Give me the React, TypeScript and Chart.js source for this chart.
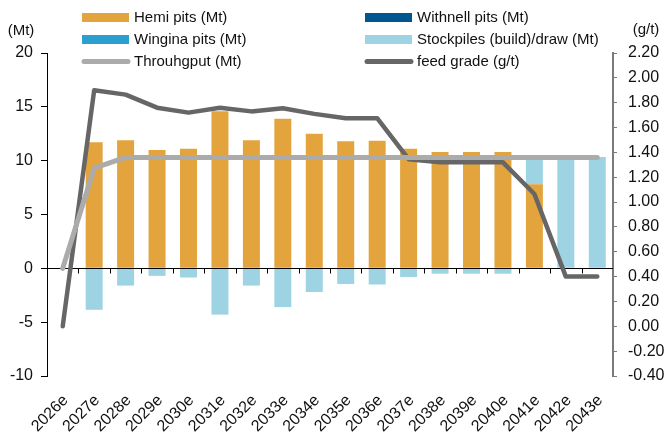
import React, { useEffect, useRef } from "react";
import { Chart, registerables } from "chart.js";

Chart.register(...registerables);

const categories = [
  "2026e", "2027e", "2028e", "2029e", "2030e", "2031e", "2032e", "2033e", "2034e",
  "2035e", "2036e", "2037e", "2038e", "2039e", "2040e", "2041e", "2042e", "2043e",
];
const hemiPits = [0, 11.7, 11.9, 11.0, 11.1, 14.6, 11.9, 13.9, 12.5, 11.8, 11.85, 11.1, 10.8, 10.8, 10.8, 7.8, 0, 0];
const withnellPits = [0, 0, 0, 0, 0, 0, 0, 0, 0, 0, 0, 0, 0, 0, 0, 0, 0, 0];
const winginaPits = [0, 0, 0, 0, 0, 0, 0, 0, 0, 0, 0, 0, 0, 0, 0, 0, 0, 0];
const stockpiles = [0, -3.85, -1.6, -0.7, -0.85, -4.3, -1.6, -3.6, -2.2, -1.45, -1.5, -0.8, -0.5, -0.5, -0.5, 2.45, 10.2, 10.35];
const throughput = [0, 9.3, 10.3, 10.3, 10.3, 10.3, 10.3, 10.3, 10.3, 10.3, 10.3, 10.3, 10.3, 10.3, 10.3, 10.3, 10.3, 10.3];
const feedGrade = [0.0, 1.9, 1.865, 1.76, 1.72, 1.76, 1.73, 1.755, 1.71, 1.675, 1.675, 1.345, 1.32, 1.32, 1.32, 1.065, 0.4, 0.4];

const leftAxis = { min: -10, max: 20, step: 5, title: "(Mt)" };
const rightAxis = { min: -0.4, max: 2.2, step: 0.2, title: "(g/t)" };

const FONT = "'Liberation Sans', Arial, sans-serif";
const HEMI = "#E3A33D";
const WITHNELL = "#00568E";
const WINGINA = "#2BA0CE";
const STOCK = "#9DD3E3";
const THRU = "#ABABAB";
const GRADE = "#666666";
const RIGHT_AXIS_COLOR = "#7A7A7A";

const legendPlugin = {
  id: "customLegend",
  afterDraw(chart: any) {
    const ctx = chart.ctx;
    const ds = chart.data.datasets;
    const cols = [82, 365];
    const rows = [17.5, 39.5, 61.5];
    const boxW = 47;
    ctx.save();
    ctx.font = `15px ${FONT}`;
    ctx.textBaseline = "middle";
    ctx.textAlign = "left";
    ds.forEach((d: any, i: number) => {
      const col = i % 2;
      const row = Math.floor(i / 2);
      const x = cols[col];
      const y = rows[row];
      if (d.type === "line") {
        ctx.strokeStyle = d.borderColor;
        ctx.lineWidth = 5;
        ctx.lineCap = "round";
        ctx.beginPath();
        ctx.moveTo(x + 2, y);
        ctx.lineTo(x + boxW - 1, y);
        ctx.stroke();
      } else {
        ctx.fillStyle = d.backgroundColor;
        ctx.fillRect(x, y - 4.5, boxW, 9);
      }
      ctx.fillStyle = "#111";
      ctx.fillText(d.label, x + boxW + 5, y + 0.5);
    });
    ctx.textAlign = "center";
    ctx.fillStyle = "#111";
    ctx.font = `15px ${FONT}`;
    ctx.fillText(leftAxis.title, 21, 31);
    ctx.fillText(rightAxis.title, 646, 30);
    ctx.restore();
  },
};

const zeroLinePlugin = {
  id: "zeroLine",
  afterDatasetDraw(chart: any, args: any) {
    if (args.index !== 0) return;
    const ctx = chart.ctx;
    const x = chart.scales.x;
    const y = chart.scales.y;
    const area = chart.chartArea;
    const y0 = Math.round(y.getPixelForValue(0)) + 0.5;
    ctx.save();
    ctx.strokeStyle = "#000";
    ctx.lineWidth = 1;
    ctx.beginPath();
    ctx.moveTo(area.left, y0);
    ctx.lineTo(area.right, y0);
    const n = categories.length;
    for (let i = 1; i < n; i++) {
      const bx = Math.round((x.getPixelForTick(i) + x.getPixelForTick(i - 1)) / 2) + 0.5;
      ctx.moveTo(bx, y0);
      ctx.lineTo(bx, y0 + 5);
    }
    ctx.stroke();
    ctx.restore();
  },
};

export default function App() {
  const ref = useRef<HTMLCanvasElement | null>(null);

  useEffect(() => {
    document.body.style.margin = "0";
    const canvas = ref.current;
    if (!canvas) return;
    const barBase = { type: "bar" as const, stack: "s", yAxisID: "y", order: 1, borderWidth: 0 };
    const chart = new Chart(canvas, {
      type: "bar",
      data: {
        labels: categories,
        datasets: [
          { ...barBase, label: "Hemi pits (Mt)", data: hemiPits, backgroundColor: HEMI },
          { ...barBase, label: "Withnell pits (Mt)", data: withnellPits, backgroundColor: WITHNELL },
          { ...barBase, label: "Wingina pits (Mt)", data: winginaPits, backgroundColor: WINGINA },
          { ...barBase, label: "Stockpiles (build)/draw (Mt)", data: stockpiles, backgroundColor: STOCK },
          {
            type: "line", label: "Throuhgput (Mt)", data: throughput, yAxisID: "y",
            borderColor: THRU, backgroundColor: THRU, borderWidth: 5, pointRadius: 0,
            borderCapStyle: "round", borderJoinStyle: "round", tension: 0, order: 0,
          },
          {
            type: "line", label: "feed grade (g/t)", data: feedGrade, yAxisID: "y1",
            borderColor: GRADE, backgroundColor: GRADE, borderWidth: 4.5, pointRadius: 0,
            borderCapStyle: "round", borderJoinStyle: "round", tension: 0, order: 0,
          },
        ] as any,
      },
      options: {
        responsive: false,
        animation: false,
        devicePixelRatio: 1,
        layout: { padding: { top: 53, left: 0, right: 0, bottom: 0 } },
        datasets: { bar: { barPercentage: 0.54, categoryPercentage: 1 } },
        plugins: { legend: { display: false }, tooltip: { enabled: false } },
        scales: {
          x: {
            stacked: true,
            offset: true,
            grid: { display: false, drawTicks: false },
            border: { display: false },
            ticks: {
              autoSkip: false, minRotation: 45, maxRotation: 45, padding: 15, labelOffset: 3,
              color: "#111", font: { family: FONT, size: 16 },
            },
            afterFit: (s: any) => { s.height = 59; },
          },
          y: {
            type: "linear", position: "left", stacked: true,
            min: leftAxis.min, max: leftAxis.max,
            grid: { drawOnChartArea: false, drawTicks: true, tickLength: 6, color: "#000" },
            border: { display: true, color: "#000", width: 1 },
            ticks: {
              stepSize: leftAxis.step, padding: 8, color: "#111",
              font: { family: FONT, size: 16 },
            },
            afterFit: (s: any) => { s.width = 47; },
          },
          y1: {
            type: "linear", position: "right",
            min: rightAxis.min, max: rightAxis.max,
            grid: { drawOnChartArea: false, drawTicks: true, tickLength: 4, color: RIGHT_AXIS_COLOR, lineWidth: 1 },
            border: { display: true, color: RIGHT_AXIS_COLOR, width: 2 },
            ticks: {
              stepSize: rightAxis.step, padding: 11, color: "#111",
              font: { family: FONT, size: 16 },
              callback: (v: any) => Number(v).toFixed(2),
            },
            afterFit: (s: any) => { s.width = 57; },
          },
        },
      } as any,
      plugins: [legendPlugin, zeroLinePlugin],
    });
    return () => chart.destroy();
  }, []);

  return (
    <div style={{ width: 670, height: 435, position: "relative" }}>
      <canvas ref={ref} width={670} height={435} style={{ display: "block" }} />
    </div>
  );
}
